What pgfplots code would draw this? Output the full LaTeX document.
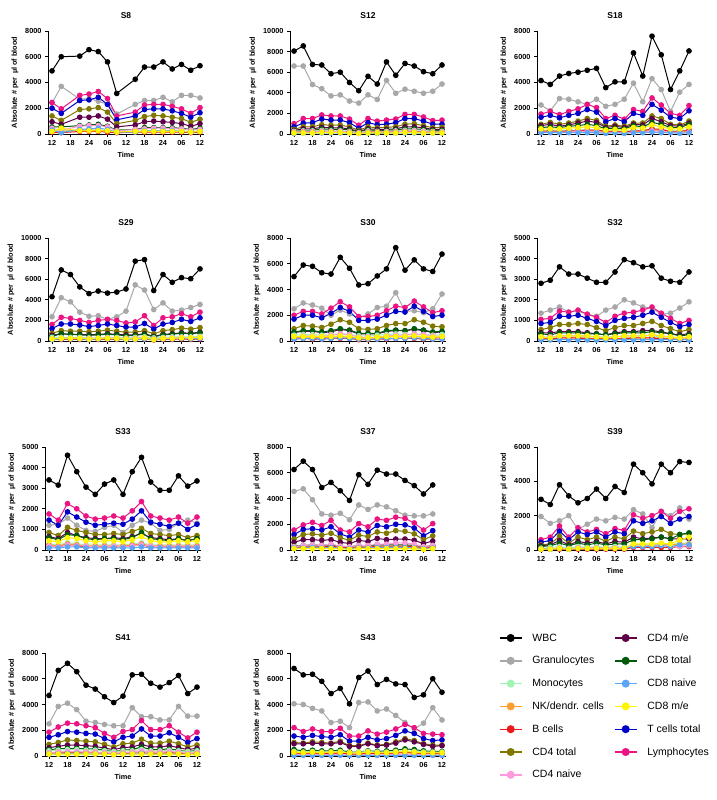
\documentclass[border=0pt]{standalone}
\usepackage{pgfplots}
\usepackage{pgfplotstable}
\pgfplotsset{compat=1.18}
\usepackage{fontspec}
\setmainfont{Liberation Sans}

\definecolor{cG}{RGB}{168,168,170}
\definecolor{cM}{RGB}{160,245,180}
\definecolor{cN}{RGB}{250,160,50}
\definecolor{cB}{RGB}{235,25,25}
\definecolor{cCt}{RGB}{128,120,0}
\definecolor{cCn}{RGB}{255,155,220}
\definecolor{cCm}{RGB}{95,0,75}
\definecolor{cEt}{RGB}{0,90,10}
\definecolor{cEn}{RGB}{90,165,245}
\definecolor{cEm}{RGB}{255,245,0}
\definecolor{cT}{RGB}{0,0,200}
\definecolor{cL}{RGB}{235,20,130}

\tikzset{
  sW/.style={color=black,mark=*},
  sG/.style={color=cG,mark=*},
  sM/.style={color=cM,mark=*},
  sN/.style={color=cN,mark=*},
  sB/.style={color=cB,mark=*},
  sCt/.style={color=cCt,mark=*},
  sCn/.style={color=cCn,mark=*},
  sCm/.style={color=cCm,mark=*},
  sEt/.style={color=cEt,mark=*},
  sEn/.style={color=cEn,mark=*},
  sEm/.style={color=cEm,mark=*},
  sT/.style={color=cT,mark=*},
  sL/.style={color=cL,mark=*},
}

% one row per series, one column per sampling time (hours after 12:00)
\pgfplotstableread{
s 0 3 9 12 15 18 21 27 30 33 36 39 42 45 48
W 4900 6000 6050 6550 6400 5600 3150 4250 5200 5200 5600 5050 5400 4950 5300
G 2400 3700 2700 2750 2550 2300 1550 2300 2600 2600 2850 2500 3000 3000 2800
M 350 250 300 300 300 250 150 200 250 250 250 250 250 200 250
N 250 200 300 300 300 250 150 200 200 200 250 200 200 150 200
B 150 100 200 200 200 150 100 150 150 150 150 150 150 100 150
Ct 1400 1050 1900 1950 2050 1700 800 1050 1350 1450 1400 1300 1200 900 1150
Cn 450 300 600 650 650 550 250 350 400 450 450 400 400 300 350
Cm 950 750 1300 1300 1400 1150 550 700 950 1000 950 900 800 600 800
Et 550 550 650 700 750 600 300 350 500 500 500 480 450 350 450
En 300 100 350 400 450 350 150 150 250 250 250 250 200 150 200
Em 200 450 250 250 250 250 150 200 200 200 200 200 200 150 200
Tc 2000 1600 2600 2650 2850 2300 1100 1400 1900 1950 1950 1800 1600 1300 1650
L 2450 1950 3000 3100 3300 2750 1400 1700 2250 2300 2300 2150 1950 1600 2050
}\rawA

\pgfplotstableread{
s 0 3 6 9 12 15 18 21 24 27 30 33 36 39 42 45 48
W 8050 8550 6750 6700 5850 6000 5000 4200 5600 4850 7000 5700 6850 6600 6050 5850 6700
G 6600 6600 4800 4400 3700 3800 3200 3000 3800 3350 5200 3950 4350 4150 3950 4150 4850
M 250 300 300 350 300 300 250 150 300 250 250 300 350 350 300 250 250
N 150 200 200 250 250 250 200 100 200 200 200 200 250 250 200 200 200
B 150 200 200 250 200 200 200 100 200 150 150 200 250 250 200 150 150
Ct 450 700 700 900 850 850 700 350 700 600 650 700 950 1000 800 600 650
Cn 150 200 200 250 250 250 200 100 200 150 200 200 250 300 250 150 200
Cm 350 500 500 650 600 600 500 250 500 450 450 500 700 700 600 450 450
Et 250 350 350 500 450 450 400 200 400 300 350 400 500 500 450 350 350
En 50 100 100 100 100 100 100 50 100 50 100 100 100 100 100 100 100
Em 100 100 100 150 150 150 100 50 100 100 100 100 150 150 100 100 100
Tc 700 1050 1100 1450 1350 1350 1100 550 1100 900 950 1100 1500 1500 1250 950 950
L 1000 1500 1500 1850 1750 1750 1450 850 1500 1250 1350 1450 1900 1900 1650 1300 1350
}\rawB

\pgfplotstableread{
s 0 3 6 9 12 15 18 21 24 27 30 33 36 39 42 45 48
W 4150 3850 4500 4700 4800 4950 5100 3600 4050 4050 6300 4500 7600 6150 3450 4900 6450
G 2250 1800 2750 2700 2500 2300 2700 2150 2300 2700 3950 2500 4300 3450 1750 3250 3850
M 250 250 250 300 300 350 300 200 250 200 300 300 400 350 250 250 300
N 150 200 150 200 200 250 200 150 150 150 200 200 300 250 150 150 200
B 200 250 200 250 250 300 300 200 200 150 250 250 400 350 200 200 300
Ct 750 900 750 850 1000 1200 1050 600 700 600 850 850 1400 1200 750 700 1000
Cn 150 150 150 150 200 200 200 100 150 100 150 150 250 200 150 150 150
Cm 650 750 600 700 850 1000 900 500 600 500 750 700 1200 950 650 600 850
Et 500 550 500 600 650 750 650 400 450 400 650 550 900 750 500 500 750
En 100 100 100 100 100 100 100 50 100 50 100 100 150 100 100 50 100
Em 400 400 400 450 500 550 500 300 350 300 500 450 700 550 400 400 550
Tc 1300 1450 1250 1450 1600 1900 1700 950 1200 950 1600 1450 2300 1850 1300 1200 1800
L 1550 1750 1500 1750 1950 2300 2050 1200 1450 1150 1900 1750 2800 2250 1600 1450 2200
}\rawC

\pgfplotstableread{
s 0 3 6 9 12 15 18 21 24 27 30 33 36 39 42 45 48
W 4300 6900 6450 5250 4600 4850 4650 4750 5050 7750 7900 4900 6450 5700 6150 6050 7000
G 2350 4200 3800 2800 2400 2450 2100 2350 2900 5450 4950 3050 3700 2900 3000 3250 3550
M 350 350 350 350 300 300 350 350 300 350 400 300 350 400 400 400 450
N 200 250 250 250 200 250 250 250 200 250 300 200 250 250 300 300 300
B 150 150 150 150 150 150 150 150 150 150 200 100 150 150 200 150 200
Ct 750 1000 950 950 900 950 1050 950 850 850 1000 700 1000 1100 1250 1150 1300
Cn 200 250 250 250 250 250 300 250 250 250 300 200 250 300 350 300 350
Cm 550 700 650 650 600 650 700 650 600 600 700 450 650 700 800 750 850
Et 450 700 650 600 550 600 650 600 500 550 650 400 600 650 750 700 800
En 150 200 200 200 150 200 200 200 150 150 200 150 200 200 250 200 250
Em 200 250 250 250 200 250 250 250 200 200 300 150 250 250 300 300 350
Tc 1200 1650 1650 1550 1400 1500 1650 1500 1350 1350 1700 1150 1650 1800 2100 1900 2250
L 1600 2300 2200 2000 1800 2000 2100 2000 1750 1850 2450 1500 2250 2350 2650 2350 2800
}\rawD

\pgfplotstableread{
s 0 3 6 9 12 15 18 21 24 27 30 33 36 39 42 45 48
W 5000 5900 5800 5300 5200 6500 5650 4350 4450 5050 5600 7250 5500 6300 5600 5400 6750
G 2500 2950 2800 2550 2000 2400 2100 1800 2100 2600 2700 3750 2300 2350 2200 2500 3650
M 450 500 500 450 500 550 500 400 400 450 500 550 500 550 500 450 500
N 250 300 300 250 300 350 300 250 250 250 300 350 300 350 300 250 300
B 150 200 150 150 200 200 200 100 100 150 150 200 200 200 150 150 150
Ct 950 1200 1150 1050 1300 1650 1450 950 900 950 1200 1350 1350 1650 1450 1150 1100
Cn 300 400 400 350 450 550 500 300 300 300 400 450 450 550 500 400 350
Cm 650 750 750 650 700 900 800 550 550 550 750 800 800 900 800 650 700
Et 700 800 800 700 800 950 850 600 600 600 800 850 800 950 850 700 750
En 150 200 200 150 200 250 200 150 150 150 200 200 200 250 200 150 150
Em 350 350 350 350 350 400 350 250 250 300 350 350 350 400 350 300 350
Tc 1700 2000 2000 1800 2150 2600 2300 1600 1600 1700 2000 2300 2250 2700 2300 1900 2000
L 2000 2300 2300 2100 2550 3050 2650 1900 1900 2000 2350 2700 2600 3100 2650 2200 2350
}\rawE

\pgfplotstableread{
s 0 3 6 9 12 15 18 21 24 27 30 33 36 39 42 45 48
W 2800 2950 3600 3250 3250 3050 2850 2850 3350 3950 3800 3600 3650 3050 2900 2850 3350
G 1350 1500 1650 1400 1450 1300 1200 1500 1650 2000 1850 1650 1600 1300 1350 1600 1900
M 200 200 250 250 250 200 200 200 200 250 250 250 250 200 200 150 200
N 100 100 150 150 150 150 100 100 100 150 150 150 150 150 100 100 100
B 100 100 150 150 150 100 100 100 100 100 150 150 150 100 100 50 100
Ct 550 650 800 800 850 800 650 500 650 750 750 850 950 750 600 450 550
Cn 150 200 250 250 250 250 200 150 200 250 250 250 300 250 200 150 150
Cm 400 400 450 450 450 400 350 300 400 450 450 500 500 450 350 300 350
Et 350 300 400 400 400 350 350 300 350 400 400 400 450 400 350 250 300
En 50 50 50 50 50 50 50 50 50 50 50 50 50 50 50 50 50
Em 200 150 250 250 250 250 200 150 200 250 250 250 300 250 200 150 200
Tc 850 900 1200 1200 1250 1100 950 750 1000 1100 1150 1250 1400 1150 900 700 800
L 1050 1100 1450 1400 1500 1300 1150 900 1200 1350 1400 1500 1650 1350 1100 850 1000
}\rawF

\pgfplotstableread{
s 0 3 6 9 12 15 18 21 24 27 30 33 36 39 42 45 48
W 3400 3150 4600 3800 3050 2700 3200 3400 2700 3800 4500 3300 2900 2900 3600 3100 3350
G 1200 1250 1550 1200 950 900 1100 1200 850 1200 1450 1300 950 1000 1300 1450 1300
M 300 250 350 300 250 250 250 250 250 300 350 250 250 250 250 250 250
N 250 200 300 250 200 200 200 200 200 250 300 200 200 200 200 200 200
B 200 150 250 200 150 150 150 150 150 200 250 150 150 150 150 150 150
Ct 850 700 1100 950 850 750 750 800 750 900 1050 800 750 700 750 600 700
Cn 200 150 250 200 200 150 150 200 150 200 250 200 150 150 150 150 150
Cm 650 550 850 700 600 550 550 600 550 650 800 600 550 500 550 450 550
Et 600 500 750 700 550 500 550 550 500 600 850 550 500 450 550 450 550
En 100 100 150 150 100 100 100 100 100 100 150 100 100 100 100 100 100
Em 450 400 600 550 450 400 450 450 400 500 650 450 400 400 450 400 450
Tc 1450 1200 1850 1600 1350 1200 1250 1300 1250 1500 1900 1350 1250 1150 1300 1000 1250
L 1750 1450 2250 2000 1650 1500 1550 1650 1550 1900 2350 1650 1550 1450 1600 1300 1600
}\rawG

\pgfplotstableread{
s 0 3 6 9 12 15 18 21 24 27 30 33 36 39 42 45
W 6250 6900 6250 4850 5250 4600 3850 5850 5100 6200 5900 5900 5400 5000 4350 5050
G 4550 4750 3900 2800 2700 2850 2350 3500 3150 3500 3350 3050 2700 2650 2650 2800
M 250 300 300 250 300 250 200 300 250 300 300 300 300 250 200 250
N 150 200 200 200 200 150 150 200 150 200 200 200 200 150 150 200
B 200 250 250 250 300 200 200 250 200 300 300 300 300 250 200 250
Ct 850 1200 1250 1150 1300 950 750 1150 1050 1400 1300 1500 1450 1250 800 1100
Cn 250 350 400 350 450 300 250 350 350 450 450 550 550 450 250 350
Cm 600 800 800 750 800 600 500 750 650 900 800 850 850 750 500 700
Et 300 350 400 350 400 300 250 350 300 400 400 400 400 350 250 350
En 150 150 200 150 200 150 100 150 150 200 200 200 200 150 100 150
Em 100 100 100 100 100 100 50 100 100 100 100 100 100 100 50 100
Tc 1200 1600 1650 1550 1800 1250 1000 1550 1400 1900 1800 2000 1950 1700 1100 1500
L 1550 1950 2150 1900 2300 1550 1400 2050 1800 2400 2300 2550 2450 2100 1550 2050
}\rawH

\pgfplotstableread{
s 0 3 6 9 12 15 18 21 24 27 30 33 36 39 42 45 48
W 2950 2650 3800 3150 2750 3000 3550 3000 3700 3350 5000 4500 3850 5000 4500 5150 5100
G 1950 1550 1700 2000 1200 1500 1800 1700 1900 1800 2350 2100 1300 2250 2000 2450 1800
M 100 150 200 100 200 150 200 150 200 150 300 300 300 350 300 400 400
N 50 50 100 50 100 100 100 100 100 100 300 300 250 300 300 350 350
B 50 50 50 50 50 50 50 50 50 50 150 150 150 150 150 200 200
Ct 300 350 800 400 750 600 750 500 750 650 1100 950 1050 1200 950 900 950
Cn 50 50 150 50 150 100 150 100 150 100 250 200 250 300 250 200 250
Cm 250 300 550 300 500 400 500 350 500 450 750 650 700 750 650 650 650
Et 200 250 400 250 400 300 400 300 350 350 600 600 650 750 650 900 1000
En 50 50 100 50 100 100 100 100 100 100 200 200 200 250 200 300 300
Em 50 50 100 50 100 100 100 100 100 100 350 350 350 400 350 600 750
Tc 450 550 1100 600 1050 900 1050 750 1050 950 1700 1550 1700 1950 1550 1800 1950
L 600 750 1400 750 1300 1050 1200 950 1250 1150 2050 1850 2000 2250 1850 2250 2400
}\rawI

\pgfplotstableread{
s 0 3 6 9 12 15 18 21 24 27 30 33 36 39 42 45 48
W 4700 6650 7200 6550 5500 5200 4600 4150 4650 6300 6350 5650 5350 5700 6250 4850 5350
G 2500 3850 4100 3600 2700 2600 2450 2350 2350 3750 3050 3050 2800 2800 3850 3100 3100
M 400 450 500 500 450 450 400 350 400 400 500 400 400 450 400 350 400
N 250 300 300 300 300 300 250 200 250 300 350 300 300 300 250 200 250
B 200 250 250 250 250 250 200 150 200 200 250 200 200 250 200 150 200
Ct 900 1050 1250 1200 1150 1100 900 700 950 1000 1300 1000 1000 1150 950 700 850
Cn 250 300 350 350 300 300 250 200 250 300 400 300 300 350 300 200 250
Cm 650 750 850 850 800 750 600 500 650 700 900 700 700 800 650 500 600
Et 500 550 600 600 550 550 450 350 450 500 700 500 500 550 450 350 450
En 150 150 200 200 150 150 150 100 150 150 200 150 150 150 150 100 150
Em 150 150 150 150 150 150 150 100 150 150 150 150 150 150 150 100 150
Tc 1450 1650 1900 1850 1750 1700 1350 1100 1450 1550 2100 1550 1550 1800 1450 1050 1350
L 1850 2250 2550 2500 2350 2200 1750 1450 1900 2050 2750 2050 2050 2350 1850 1400 1850
}\rawJ

\pgfplotstableread{
s 0 3 6 9 12 15 18 21 24 27 30 33 36 39 42 45 48
W 6800 6300 6350 5800 4850 5250 4050 6100 6600 5550 5950 5600 5550 4550 4750 6000 4950
G 4050 4000 3700 3500 2600 2700 2200 4150 4200 3500 3650 3150 2600 2100 2550 3750 2800
M 350 300 350 300 300 350 250 300 350 300 300 350 400 350 300 300 300
N 200 200 200 200 200 200 150 150 200 150 200 200 250 200 200 150 150
B 250 200 250 200 200 250 150 150 200 200 200 250 300 250 200 200 200
Ct 1050 1000 1100 1050 1000 1150 800 800 1000 850 900 1100 1350 1200 950 850 850
Cn 100 100 100 100 100 100 50 50 100 50 100 100 100 100 100 50 50
Cm 950 950 1000 950 950 1050 750 750 950 800 850 1000 1250 1100 900 750 800
Et 500 400 450 400 400 450 300 300 400 350 400 450 550 500 400 350 350
En 50 50 50 50 50 50 50 50 50 50 50 50 50 50 50 50 50
Em 300 250 300 250 300 300 250 250 300 250 250 300 350 300 250 250 250
Tc 1550 1450 1600 1500 1450 1650 1150 1150 1450 1250 1350 1600 1950 1750 1350 1200 1250
L 2200 1900 2100 1900 1900 2150 1550 1550 1950 1700 1850 2100 2450 2200 1750 1700 1650
}\rawK

\pgfplotstabletranspose[colnames from=s,input colnames to=hr]\tabA{\rawA}
\pgfplotstabletranspose[colnames from=s,input colnames to=hr]\tabB{\rawB}
\pgfplotstabletranspose[colnames from=s,input colnames to=hr]\tabC{\rawC}
\pgfplotstabletranspose[colnames from=s,input colnames to=hr]\tabD{\rawD}
\pgfplotstabletranspose[colnames from=s,input colnames to=hr]\tabE{\rawE}
\pgfplotstabletranspose[colnames from=s,input colnames to=hr]\tabF{\rawF}
\pgfplotstabletranspose[colnames from=s,input colnames to=hr]\tabG{\rawG}
\pgfplotstabletranspose[colnames from=s,input colnames to=hr]\tabH{\rawH}
\pgfplotstabletranspose[colnames from=s,input colnames to=hr]\tabI{\rawI}
\pgfplotstabletranspose[colnames from=s,input colnames to=hr]\tabJ{\rawJ}
\pgfplotstabletranspose[colnames from=s,input colnames to=hr]\tabK{\rawK}

\newcommand{\curves}[1]{%
  \addplot[sG] table[x=hr,y=G]{#1};
  \addplot[sL] table[x=hr,y=L]{#1};
  \addplot[sT] table[x=hr,y=Tc]{#1};
  \addplot[sCt] table[x=hr,y=Ct]{#1};
  \addplot[sCm] table[x=hr,y=Cm]{#1};
  \addplot[sEt] table[x=hr,y=Et]{#1};
  \addplot[sM] table[x=hr,y=M]{#1};
  \addplot[sN] table[x=hr,y=N]{#1};
  \addplot[sB] table[x=hr,y=B]{#1};
  \addplot[sCn] table[x=hr,y=Cn]{#1};
  \addplot[sEn] table[x=hr,y=En]{#1};
  \addplot[sEm] table[x=hr,y=Em]{#1};
  \addplot[sW] table[x=hr,y=W]{#1};
}

\pgfplotsset{
  panel/.style={
    scale only axis, width=156pt, height=103pt, anchor=north west,
    axis x line*=bottom, axis y line*=left,
    xmin=-1.3, xmax=49.3, ymin=0,
    xtick={0,6,...,48}, xticklabels={12,18,24,06,12,18,24,06,12},
    tick align=outside, major tick length=3pt,
    tick style={black, line width=0.8pt},
    axis line style={line width=0.8pt},
    scaled y ticks=false,
    /pgf/number format/assume math mode=true,
    /pgf/number format/1000 sep={},
    tick label style={font=\bfseries\fontsize{7.3}{8}\selectfont},
    xlabel=Time, ylabel={Absolute \# per\enspace µl of blood},
    label style={font=\bfseries\fontsize{7.3}{9}\selectfont},
    title style={font=\bfseries\fontsize{8.5}{10}\selectfont, yshift=3pt},
    clip=false,
    every axis plot/.append style={line width=1pt, mark size=2.3pt},
  }
}

\begin{document}
\begin{tikzpicture}
\useasboundingbox (0,0) rectangle (716pt,800pt);

\begin{axis}[panel, at={(48pt,769pt)}, ymax=8000, ytick distance=2000, title=S8]
\curves{\tabA}
\end{axis}
\begin{axis}[panel, at={(290pt,769pt)}, ymax=10000, ytick distance=2000, title=S12]
\curves{\tabB}
\end{axis}
\begin{axis}[panel, at={(537pt,769pt)}, ymax=8000, ytick distance=2000, title=S18]
\curves{\tabC}
\end{axis}

\begin{axis}[panel, at={(48pt,562pt)}, ymax=10000, ytick distance=2000, title=S29]
\curves{\tabD}
\end{axis}
\begin{axis}[panel, at={(290pt,562pt)}, ymax=8000, ytick distance=2000, title=S30]
\curves{\tabE}
\end{axis}
\begin{axis}[panel, at={(537pt,562pt)}, ymax=5000, ytick distance=1000, title=S32]
\curves{\tabF}
\end{axis}

\begin{axis}[panel, at={(45pt,353pt)}, ymax=5000, ytick distance=1000, title=S33]
\curves{\tabG}
\end{axis}
\begin{axis}[panel, at={(290pt,353pt)}, ymax=8000, ytick distance=2000, title=S37]
\curves{\tabH}
\end{axis}
\begin{axis}[panel, at={(537pt,353pt)}, ymax=6000, ytick distance=2000, title=S39]
\curves{\tabI}
\end{axis}

\begin{axis}[panel, at={(45pt,147pt)}, ymax=8000, ytick distance=2000, title=S41]
\curves{\tabJ}
\end{axis}
\begin{axis}[panel, at={(290pt,147pt)}, ymax=8000, ytick distance=2000, title=S43]
\curves{\tabK}
\end{axis}

% legend only
\begin{axis}[hide axis, scale only axis, width=10pt, height=10pt,
  at={(499pt,169pt)}, anchor=north west,
  xmin=0, xmax=1, ymin=0, ymax=1,
  legend columns=2, legend cell align=left,
  legend image code/.code={%
    \draw[mark repeat=2,mark phase=2,#1,line width=1.4pt,mark size=3.3pt]
      plot coordinates {(0pt,0pt) (11pt,0pt) (22pt,0pt)};},
  legend style={at={(0,1)}, anchor=north west, draw=none, fill=none,
    inner sep=0pt, outer sep=0pt,
    font=\fontsize{10.5}{13}\selectfont,
    column sep=8pt, row sep=8.8pt,
    nodes={inner sep=2pt, text height=8pt, text depth=2pt}},
]
\addlegendimage{sW}\addlegendentry{WBC}
\addlegendimage{sCm}\addlegendentry{CD4 m/e}
\addlegendimage{sG}\addlegendentry{Granulocytes}
\addlegendimage{sEt}\addlegendentry{CD8 total}
\addlegendimage{sM}\addlegendentry{Monocytes}
\addlegendimage{sEn}\addlegendentry{CD8 naive}
\addlegendimage{sN}\addlegendentry{NK/dendr. cells}
\addlegendimage{sEm}\addlegendentry{CD8 m/e}
\addlegendimage{sB}\addlegendentry{B cells}
\addlegendimage{sT}\addlegendentry{T cells total}
\addlegendimage{sCt}\addlegendentry{CD4 total}
\addlegendimage{sL}\addlegendentry{Lymphocytes}
\addlegendimage{sCn}\addlegendentry{CD4 naive}
\end{axis}
\end{tikzpicture}
\end{document}
